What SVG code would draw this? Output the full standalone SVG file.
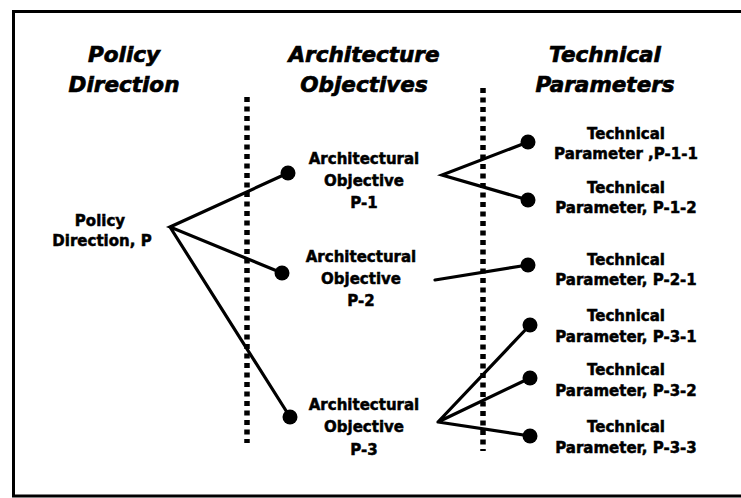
<svg xmlns="http://www.w3.org/2000/svg" width="741" height="498" viewBox="0 0 741 498">
<style>
.hdr{font-family:"DejaVu Sans","Liberation Sans",sans-serif;font-weight:bold;font-style:italic;font-size:21.5px;fill:#000;stroke:#000;stroke-width:0.7;text-anchor:middle}
.lbl{font-family:"DejaVu Sans","Liberation Sans",sans-serif;font-weight:bold;font-size:15px;fill:#000;stroke:#000;stroke-width:0.5;text-anchor:middle}
.edge{stroke:#000;stroke-width:3.2;fill:none;stroke-linecap:round}
.dots{stroke:#000;stroke-width:5.5;stroke-dasharray:5 4.5;fill:none}
.dot{fill:#000}
</style>
<rect x="0" y="0" width="741" height="498" fill="#fff"/>
<path d="M741 11.5 H13.5 V496 H741" fill="none" stroke="#000" stroke-width="3"/>
<g id="headers">
<text class="hdr" x="124" y="62">Policy</text>
<text class="hdr" x="124" y="92">Direction</text>
<text class="hdr" x="364" y="62">Architecture</text>
<text class="hdr" x="364" y="92">Objectives</text>
<text class="hdr" x="605" y="62">Technical</text>
<text class="hdr" x="605" y="92">Parameters</text>
</g>
<g id="dividers">
<line class="dots" x1="247" y1="97" x2="247" y2="443"/>
<line class="dots" x1="483" y1="88" x2="483" y2="451"/>
</g>
<g id="connectors">
<path class="edge" d="M288 173 L170 227 L282 273 M170 227 L290 417"/>
<path class="edge" d="M528 142 L442 175 L528 200"/>
<path class="edge" d="M435 280 L528 265"/>
<path class="edge" d="M530 325 L438 422 L530 378 M438 422 L530 436"/>
</g>
<g id="policy-direction">
<text class="lbl" x="100" y="226">Policy</text>
<text class="lbl" x="102" y="246">Direction, P</text>
</g>
<g id="objective-p1">
<circle class="dot" cx="288" cy="173" r="7.5"/>
<text class="lbl" x="364" y="164">Architectural</text>
<text class="lbl" x="364" y="186">Objective</text>
<text class="lbl" x="364" y="208">P-1</text>
</g>
<g id="objective-p2">
<circle class="dot" cx="282" cy="273" r="7.5"/>
<text class="lbl" x="361" y="262">Architectural</text>
<text class="lbl" x="361" y="284">Objective</text>
<text class="lbl" x="361" y="306">P-2</text>
</g>
<g id="objective-p3">
<circle class="dot" cx="290" cy="417" r="7.5"/>
<text class="lbl" x="364" y="410">Architectural</text>
<text class="lbl" x="364" y="432">Objective</text>
<text class="lbl" x="364" y="455">P-3</text>
</g>
<g id="param-p1-1">
<circle class="dot" cx="528" cy="142" r="7.5"/>
<text class="lbl" x="626" y="139">Technical</text>
<text class="lbl" x="626" y="159">Parameter ,P-1-1</text>
</g>
<g id="param-p1-2">
<circle class="dot" cx="528" cy="200" r="7.5"/>
<text class="lbl" x="626" y="193">Technical</text>
<text class="lbl" x="626" y="213">Parameter, P-1-2</text>
</g>
<g id="param-p2-1">
<circle class="dot" cx="528" cy="265" r="7.5"/>
<text class="lbl" x="626" y="265">Technical</text>
<text class="lbl" x="626" y="285">Parameter, P-2-1</text>
</g>
<g id="param-p3-1">
<circle class="dot" cx="530" cy="325" r="7.5"/>
<text class="lbl" x="626" y="321">Technical</text>
<text class="lbl" x="626" y="342">Parameter, P-3-1</text>
</g>
<g id="param-p3-2">
<circle class="dot" cx="530" cy="378" r="7.5"/>
<text class="lbl" x="626" y="375">Technical</text>
<text class="lbl" x="626" y="396">Parameter, P-3-2</text>
</g>
<g id="param-p3-3">
<circle class="dot" cx="530" cy="436" r="7.5"/>
<text class="lbl" x="626" y="432">Technical</text>
<text class="lbl" x="626" y="453">Parameter, P-3-3</text>
</g>
</svg>
